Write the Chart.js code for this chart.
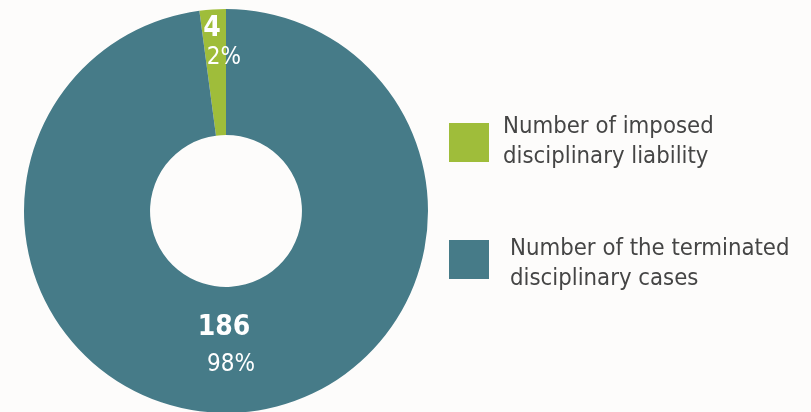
<!DOCTYPE html>
<html>
<head>
<meta charset="utf-8">
<script src="https://cdn.jsdelivr.net/npm/chart.js@4/dist/chart.umd.min.js"></script>
<style>
  html, body { margin: 0; padding: 0; background: #fdfcfb; overflow: hidden; }
  #wrap { position: relative; width: 811px; height: 416px; }
</style>
</head>
<body>
<div id="wrap"><canvas id="chart"></canvas></div>
<script>
// data
const categories = [
  ['Number of imposed', 'disciplinary liability'],
  ['Number of the terminated', 'disciplinary cases']
];
const counts = [4, 186];
const percentLabels = ['2%', '98%'];

const colors = ['#9fbd3a', '#467b88'];
const FONT = '"DejaVu Sans Condensed", "DejaVu Sans", sans-serif';

// label placement inside the ring: radius fraction + offsets for number / percent
const labelStyle = [
  { frac: 0.73, num: [-3, -15], pct: [9, 14] },
  { frac: 0.48, num: [-11, -19], pct: [-4, 18] }
];

const sliceLabels = {
  id: 'sliceLabels',
  afterDatasetsDraw(chart) {
    const ctx = chart.ctx;
    const meta = chart.getDatasetMeta(0);
    ctx.save();
    ctx.fillStyle = '#ffffff';
    ctx.textAlign = 'center';
    ctx.textBaseline = 'middle';
    meta.data.forEach((arc, i) => {
      const p = arc.getProps(['x', 'y', 'startAngle', 'endAngle', 'innerRadius', 'outerRadius'], true);
      const mid = (p.startAngle + p.endAngle) / 2;
      const s = labelStyle[i];
      const r = p.innerRadius + (p.outerRadius - p.innerRadius) * s.frac;
      const ax = p.x + Math.cos(mid) * r;
      const ay = p.y + Math.sin(mid) * r;
      ctx.font = 'bold 28px ' + FONT;
      ctx.fillText(String(chart.data.datasets[0].data[i]), ax + s.num[0], ay + s.num[1]);
      ctx.font = '24px ' + FONT;
      ctx.fillText(percentLabels[i], ax + s.pct[0], ay + s.pct[1]);
    });
    ctx.restore();
  }
};

// legend drawn on the right side
const legendItems = [
  { box: [449, 123], text: [503, 133] },
  { box: [449, 240], text: [510, 255] }
];
const sideLegend = {
  id: 'sideLegend',
  afterDraw(chart) {
    const ctx = chart.ctx;
    ctx.save();
    ctx.textAlign = 'left';
    ctx.textBaseline = 'alphabetic';
    ctx.font = '23.7px ' + FONT;
    chart.data.labels.forEach((lab, i) => {
      const it = legendItems[i];
      ctx.fillStyle = colors[i];
      ctx.fillRect(it.box[0], it.box[1], 40, 39);
      ctx.fillStyle = '#454545';
      lab.forEach((line, k) => ctx.fillText(line, it.text[0], it.text[1] + k * 30));
    });
    ctx.restore();
  }
};

new Chart(document.getElementById('chart'), {
  type: 'doughnut',
  data: {
    labels: categories,
    datasets: [{
      data: counts,
      backgroundColor: colors,
      borderWidth: 0
    }]
  },
  options: {
    responsive: true,
    maintainAspectRatio: false,
    animation: false,
    cutout: '37.6%',
    rotation: -(counts[0] / (counts[0] + counts[1])) * 360,
    layout: { padding: { left: 24, top: 9, right: 383, bottom: 3 } },
    plugins: {
      legend: { display: false },
      tooltip: { enabled: false }
    }
  },
  plugins: [sliceLabels, sideLegend]
});
</script>
</body>
</html>
